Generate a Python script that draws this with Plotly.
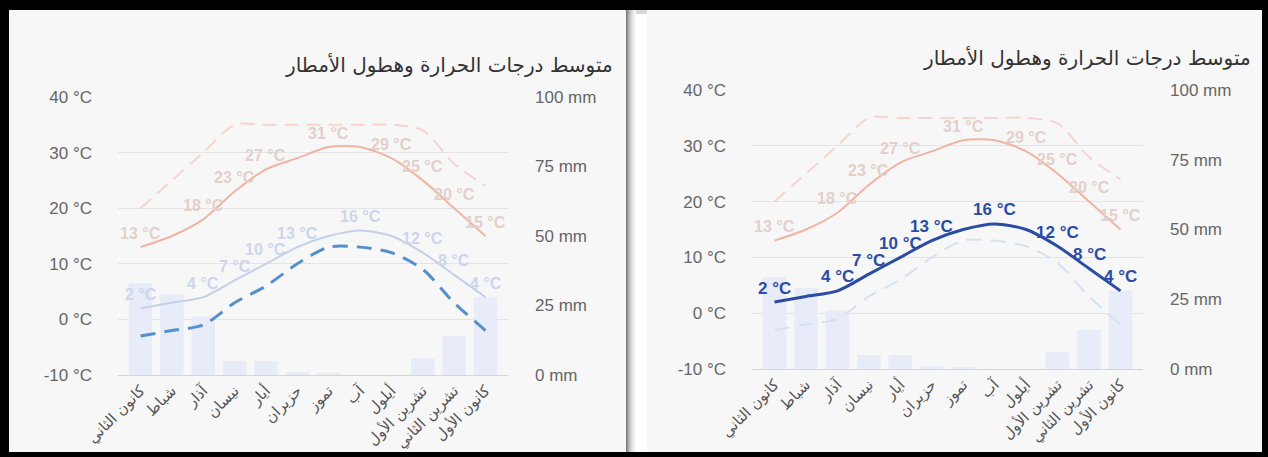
import plotly.graph_objects as go

W, H = 1268, 457

months = ["كانون الثاني", "شباط", "آذار", "نيسان", "أيار", "حزيران",
          "تموز", "آب", "أيلول", "تشرين الأول", "تشرين الثاني", "كانون الأول"]
precip_mm = [33, 29, 21, 5, 5, 1, 0.5, 0, 0, 6, 14, 28]
max_temp = [13, 15, 18, 23, 27, 29, 31, 31, 29, 25, 20, 15]
max_record = [20, 25, 30, 35, 35, 35, 35, 35, 35, 34, 28, 24]
min_temp = [2, 3, 4, 7, 10, 13, 15, 16, 15, 12, 8, 4]
min_record = [-3, -2, -1, 3, 6, 10, 13, 13, 12, 9, 3, -2]
max_label_shown = [1, 0, 1, 1, 1, 0, 1, 0, 1, 1, 1, 1]
min_label_shown = [1, 0, 1, 1, 1, 1, 0, 1, 0, 1, 1, 1]
temp_ticks = [-10, 0, 10, 20, 30, 40]
mm_ticks = [0, 25, 50, 75, 100]
title = "متوسط درجات الحرارة وهطول الأمطار"

def X(px):
    return px / W

def Y(py):
    return 1 - py / H

FONT = "Liberation Sans, Arial, DejaVu Sans, sans-serif"
BAR = "#e7ecf8"
RED = "#efb4a3"
RED_D = "#f7d5cc"
RED_LBL = "#e3d0cb"
BLUE_FADE = "#c4d0ea"
BLUE_LBL = "#cdd6ec"
BLUE_DASH = "#5590cc"
NAVY = "#2a4ca3"
BLUE_DASH_FADE = "#d4e2f0"

fig = go.Figure()

def labels(xa, yt, values, shown, color, size):
    for m, v, s in zip(months, values, shown):
        if s:
            fig.add_annotation(x=m, y=v, xref=xa, yref=yt, text=f"{v} °C",
                               showarrow=False, yshift=14, xanchor="center", yanchor="middle",
                               font=dict(family=FONT, size=size, color=color, weight="bold"))

def panel(xa, ymm, yt, highlight):
    fig.add_trace(go.Bar(x=months, y=precip_mm, xaxis=xa, yaxis=ymm,
                         marker=dict(color=BAR, line=dict(width=0)),
                         showlegend=False, hoverinfo="skip"))
    fig.add_trace(go.Scatter(x=months, y=max_record, xaxis=xa, yaxis=yt, mode="lines",
                             line=dict(color=RED_D, width=2, dash="14px,8px",
                                       shape="spline", smoothing=0.8),
                             showlegend=False, hoverinfo="skip"))
    fig.add_trace(go.Scatter(x=months, y=max_temp, xaxis=xa, yaxis=yt, mode="lines",
                             line=dict(color=RED, width=2, shape="spline", smoothing=0.8),
                             showlegend=False, hoverinfo="skip"))
    labels(xa, yt, max_temp, max_label_shown, RED_LBL, 16)
    if highlight == "dash":
        fig.add_trace(go.Scatter(x=months, y=min_temp, xaxis=xa, yaxis=yt, mode="lines",
                                 line=dict(color=BLUE_FADE, width=2, shape="spline", smoothing=0.8),
                                 showlegend=False, hoverinfo="skip"))
        labels(xa, yt, min_temp, min_label_shown, BLUE_LBL, 16)
        fig.add_trace(go.Scatter(x=months, y=min_record, xaxis=xa, yaxis=yt, mode="lines",
                                 line=dict(color=BLUE_DASH, width=3, dash="15px,9px",
                                           shape="spline", smoothing=0.8),
                                 showlegend=False, hoverinfo="skip"))
    else:
        fig.add_trace(go.Scatter(x=months, y=min_record, xaxis=xa, yaxis=yt, mode="lines",
                                 line=dict(color=BLUE_DASH_FADE, width=2, dash="15px,9px",
                                           shape="spline", smoothing=0.8),
                                 showlegend=False, hoverinfo="skip"))
        fig.add_trace(go.Scatter(x=months, y=min_temp, xaxis=xa, yaxis=yt, mode="lines",
                                 line=dict(color=NAVY, width=3, shape="spline", smoothing=0.8),
                                 showlegend=False, hoverinfo="skip"))
        labels(xa, yt, min_temp, min_label_shown, NAVY, 17)

panel("x", "y", "y2", "dash")
panel("x2", "y3", "y4", "solid")

tick_font = dict(family=FONT, size=17, color="#666666")
xcommon = dict(type="category", showgrid=False, tickangle=-45, showline=True,
               linecolor="#ccd6eb", linewidth=1, ticks="", automargin=False,
               tickfont=dict(family="DejaVu Sans, sans-serif", size=15, color="#555555"),
               fixedrange=True)
mmcommon = dict(range=[0, 100], side="right", showgrid=False, zeroline=False,
                tickvals=mm_ticks, ticktext=[f"{v} mm" for v in mm_ticks],
                tickfont=tick_font, ticklabelstandoff=26, automargin=False)
tcommon = dict(range=[-10, 40], side="left", showgrid=True, gridcolor="#e4e4e4",
               gridwidth=1, zeroline=False, tickvals=temp_ticks,
               ticktext=[f"{v} °C" for v in temp_ticks], tickfont=tick_font,
               ticklabelstandoff=25, automargin=False)

fig.update_layout(
    width=W, height=H,
    margin=dict(l=0, r=0, t=0, b=0, pad=0, autoexpand=False),
    paper_bgcolor="#000000",
    plot_bgcolor="rgba(0,0,0,0)",
    barmode="overlay", bargap=0.25,
    xaxis=dict(domain=[X(118), X(508)], anchor="y", **xcommon),
    yaxis=dict(domain=[Y(375), Y(97)], anchor="x", **mmcommon),
    yaxis2=dict(overlaying="y", anchor="x", **tcommon),
    xaxis2=dict(domain=[X(752), X(1143)], anchor="y3", **xcommon),
    yaxis3=dict(domain=[Y(369), Y(90)], anchor="x2", **mmcommon),
    yaxis4=dict(overlaying="y3", anchor="x2", **tcommon),
)

shapes = [
    dict(type="rect", xref="paper", yref="paper", x0=X(9), x1=X(626), y0=Y(452), y1=Y(10),
         fillcolor="#f7f7f7", line=dict(width=0), layer="below"),
    dict(type="rect", xref="paper", yref="paper", x0=X(626), x1=X(647), y0=Y(452), y1=Y(10),
         fillcolor="#ffffff", line=dict(width=0), layer="below"),
    dict(type="rect", xref="paper", yref="paper", x0=X(647), x1=X(1262), y0=Y(452), y1=Y(10),
         fillcolor="#f7f7f7", line=dict(width=0), layer="below"),
    dict(type="rect", xref="paper", yref="paper", x0=X(626), x1=X(647), y0=Y(14), y1=Y(10),
         fillcolor="#d8d8d8", line=dict(width=0), layer="below"),
]
grays = ["#7a7a7a", "#8c8c8c", "#9e9e9e", "#b0b0b0", "#c2c2c2", "#d4d4d4", "#e4e4e4", "#f0f0f0", "#f8f8f8"]
for i, g in enumerate(grays):
    shapes.append(dict(type="rect", xref="paper", yref="paper", x0=X(626 + i * 1.1),
                       x1=X(627.1 + i * 1.1), y0=Y(452), y1=Y(10), fillcolor=g,
                       line=dict(width=0), layer="below"))
fig.update_layout(shapes=shapes)

for xr, yr in [(615, 65), (1253, 58)]:
    fig.add_annotation(xref="paper", yref="paper", x=X(xr), y=Y(yr), text=title,
                       showarrow=False, xanchor="right", yanchor="middle",
                       font=dict(family="DejaVu Sans, sans-serif", size=20, color="#333333"))

fig.write_html("out.html")
